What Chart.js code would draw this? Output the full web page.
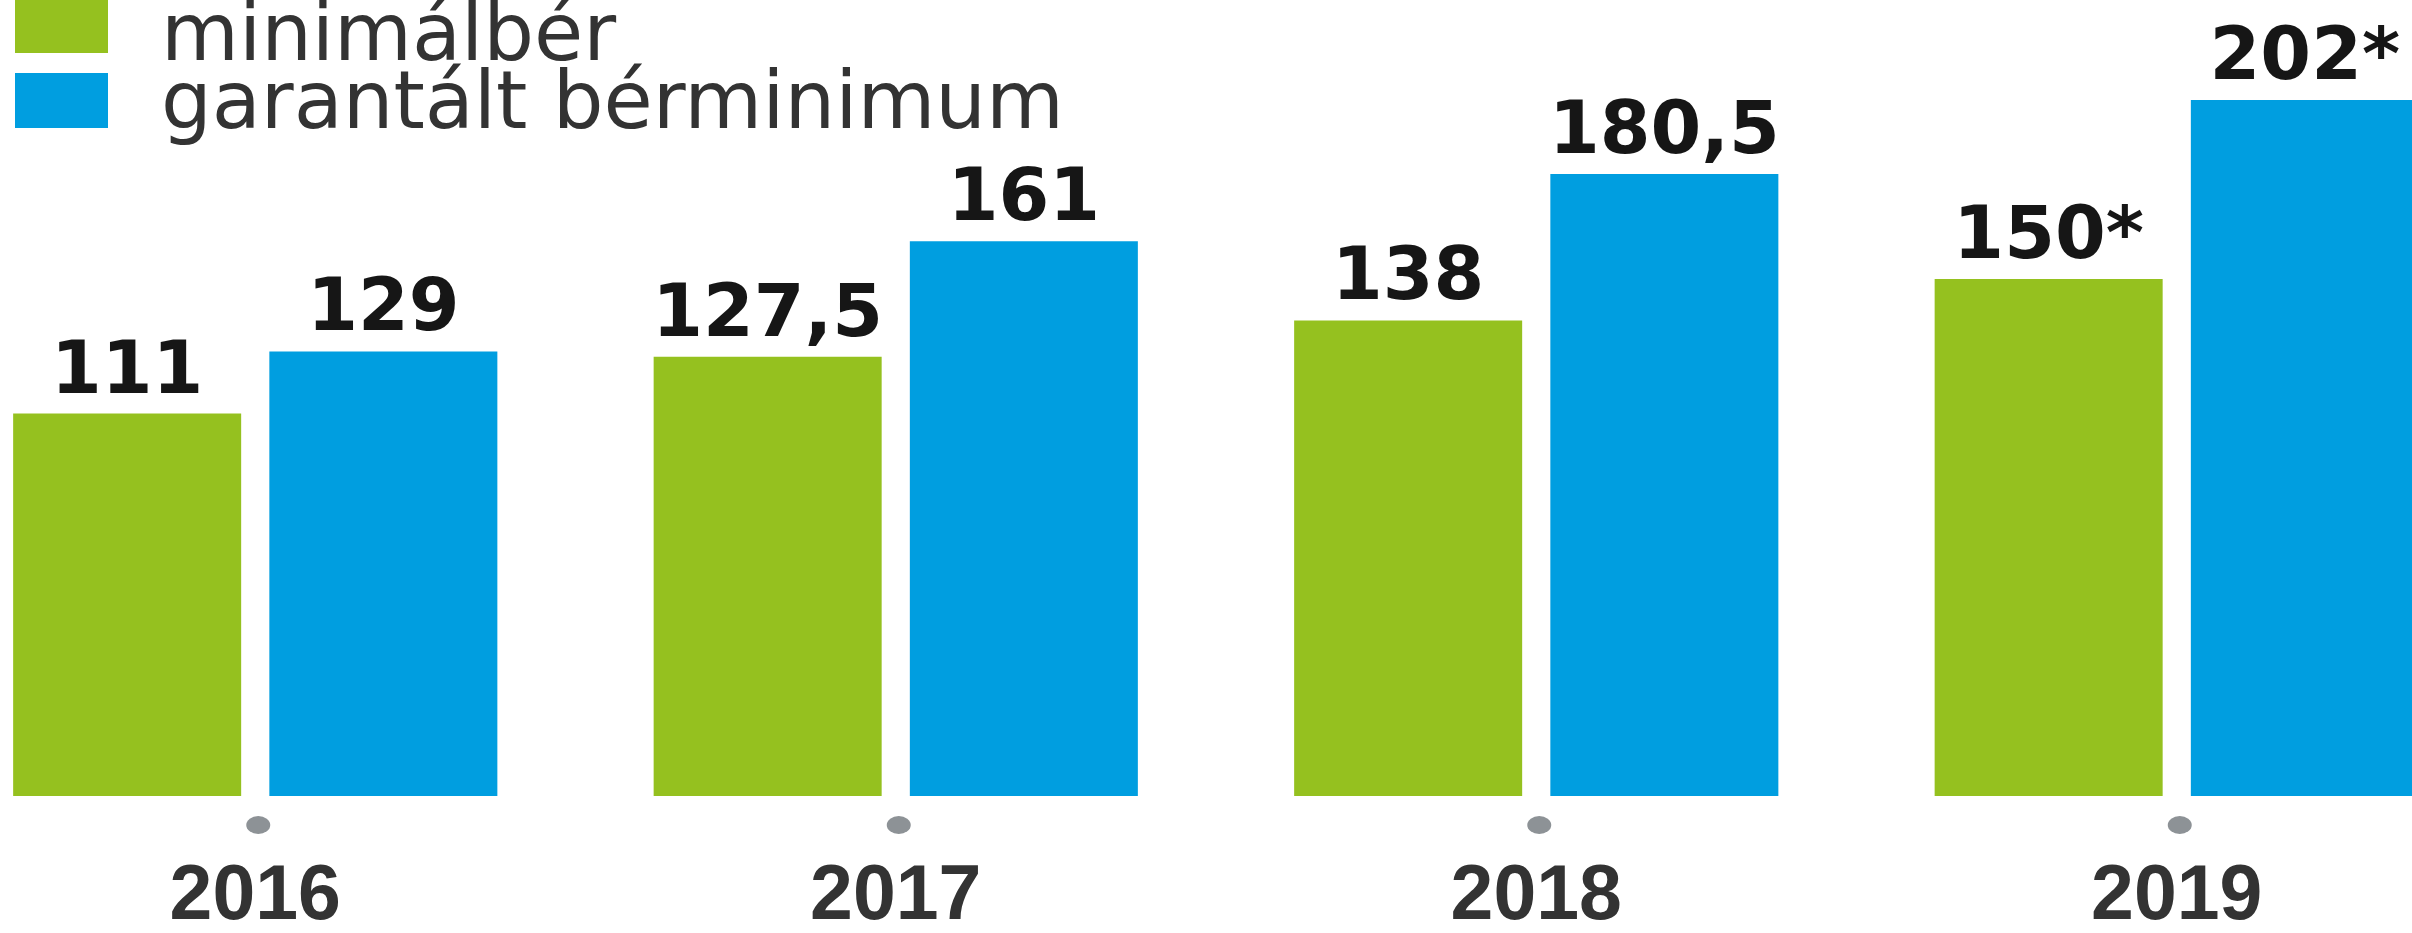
<!DOCTYPE html>
<html>
<head>
<meta charset="utf-8">
<script src="https://cdn.jsdelivr.net/npm/chart.js@4.4.1/dist/chart.umd.min.js"></script>
<style>
html, body { margin: 0; padding: 0; background: #fff; }
#stage { position: relative; width: 2412px; height: 933px; overflow: hidden; background: #fff; }
#wrap { position: absolute; left: -65px; top: 0; width: 2562px; height: 999px; }
#legend { position: absolute; left: 15px; top: -2px; margin: 0; padding: 0; list-style: none; z-index: 2; }
#legend li { position: relative; height: 68px; width: 1100px; }
#legend .box { position: absolute; left: 0; top: 0; width: 93px; height: 55px; }
#legend li:nth-child(2) .box { top: 7px; }
#legend .txt { position: absolute; left: 146px; top: -5px; font-family: "DejaVu Sans"; font-size: 80px; line-height: 80px; color: #333; white-space: nowrap; }
</style>
</head>
<body>
<div id="stage">
  <div id="wrap"><canvas id="c"></canvas></div>
  <ul id="legend"></ul>
</div>
<script>
// ---- data ----
const years = ['2016', '2017', '2018', '2019'];
const minimalber = [111, 127.5, 138, 150];
const garantaltBerminimum = [129, 161, 180.5, 202];
const footnoteMarks = ['', '', '', '*'];
const seriesNames = ['minimálbér', 'garantált bérminimum'];
const seriesColors = ['#95c11f', '#009ee0'];
const yMin = 0;
const yMax = 231;

function fmt(v, i) {
  return String(v).replace('.', ',') + footnoteMarks[i];
}

const valueLabels = {
  id: 'valueLabels',
  afterDatasetsDraw(chart) {
    const ctx = chart.ctx;
    ctx.save();
    ctx.font = 'bold 73px "DejaVu Sans"';
    ctx.fillStyle = '#161616';
    ctx.textAlign = 'center';
    ctx.textBaseline = 'alphabetic';
    chart.data.datasets.forEach((ds, di) => {
      const meta = chart.getDatasetMeta(di);
      meta.data.forEach((bar, i) => {
        ctx.fillText(fmt(ds.data[i], i), bar.x, bar.y - 21);
      });
    });
    ctx.restore();
  }
};

const tickDots = {
  id: 'tickDots',
  afterDraw(chart) {
    const ctx = chart.ctx;
    const xs = chart.scales.x;
    const y = chart.chartArea.bottom + 29;
    ctx.save();
    ctx.fillStyle = '#8d9296';
    years.forEach((_, i) => {
      const x = xs.getPixelForValue(i) + 3;
      ctx.beginPath();
      ctx.ellipse(x, y, 12, 9, 0, 0, Math.PI * 2);
      ctx.fill();
    });
    ctx.restore();
  }
};

const htmlLegend = {
  id: 'htmlLegend',
  afterUpdate(chart) {
    const ul = document.getElementById('legend');
    ul.innerHTML = '';
    const items = chart.options.plugins.legend.labels.generateLabels(chart);
    items.forEach(item => {
      const li = document.createElement('li');
      const box = document.createElement('span');
      box.className = 'box';
      box.style.background = item.fillStyle;
      const txt = document.createElement('span');
      txt.className = 'txt';
      txt.textContent = item.text;
      li.appendChild(box);
      li.appendChild(txt);
      ul.appendChild(li);
    });
  }
};

new Chart(document.getElementById('c'), {
  type: 'bar',
  data: {
    labels: years,
    datasets: [
      { label: seriesNames[0], data: minimalber, backgroundColor: seriesColors[0], borderWidth: 0 },
      { label: seriesNames[1], data: garantaltBerminimum, backgroundColor: seriesColors[1], borderWidth: 0 }
    ]
  },
  options: {
    responsive: true,
    maintainAspectRatio: false,
    devicePixelRatio: 1,
    animation: false,
    categoryPercentage: 0.8,
    barPercentage: 0.89,
    layout: { padding: 0 },
    plugins: {
      legend: { display: false },
      tooltip: { enabled: false }
    },
    scales: {
      x: {
        grid: { display: false, drawTicks: false },
        border: { display: false },
        ticks: {
          color: '#333',
          padding: 63,
          font: { family: '"Liberation Sans"', size: 77, weight: 'bold', lineHeight: 1 }
        }
      },
      y: {
        display: false,
        min: yMin,
        max: yMax
      }
    }
  },
  plugins: [valueLabels, tickDots, htmlLegend]
});
</script>
</body>
</html>
